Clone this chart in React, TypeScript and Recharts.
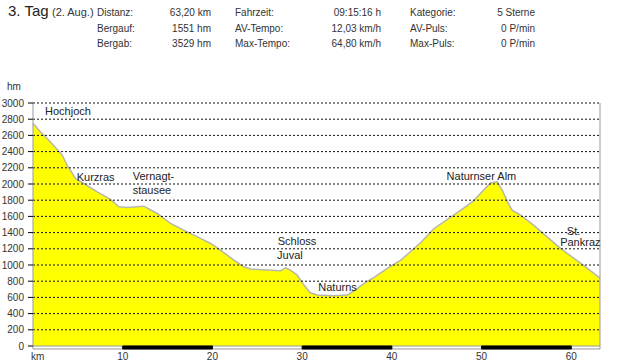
import React from "react";
import {
  AreaChart,
  Area,
  XAxis,
  YAxis,
  ReferenceLine,
  ReferenceArea,
  ReferenceDot,
} from "recharts";

// Route profile: distance (km) and elevation (hm)
const kmValues = [
  0, 0.84, 1.95, 3.26, 3.81, 4.74, 5.66, 7.16, 8.64, 9.57,
  10.5, 12.35, 13.85, 15.33, 17.19, 18.67, 19.8, 20.9, 22.4, 23.5,
  24.25, 26.1, 27.6, 28.15, 28.7, 29.45, 30.2, 30.9, 31.7, 33.5,
  35.0, 35.8, 36.9, 38.0, 39.5, 41.0, 43.2, 44.7, 46.2, 47.7,
  49.1, 50.4, 51.0, 51.75, 52.3, 52.9, 53.4, 54.35, 55.8, 57.3,
  58.8, 60.3, 61.8, 63.2,
];
const elevations = [
  2750, 2642, 2519, 2355, 2232, 2068, 2006, 1903, 1809, 1718,
  1710, 1726, 1636, 1513, 1409, 1328, 1266, 1184, 1060, 978,
  950, 937, 929, 966, 937, 875, 752, 657, 629, 620,
  629, 682, 773, 847, 958, 1060, 1274, 1451, 1562, 1677,
  1792, 1945, 2014, 2026, 1924, 1779, 1677, 1615, 1492, 1348,
  1205, 1081, 958, 838,
];

const yTicks = [0, 200, 400, 600, 800, 1000, 1200, 1400, 1600, 1800, 2000, 2200, 2400, 2600, 2800, 3000];
const xTicks = [0, 10, 20, 30, 40, 50, 60];
const xMax = 63.2;
const scaleBandsBlack = [
  [10, 20],
  [30, 40],
  [50, 60],
];

// Place names (text anchor position in km / hm)
const placeNames = ["Hochjoch", "Kurzras", "Vernagt-", "stausee", "Schloss", "Juval", "Naturns", "Naturnser Alm", "St.", "Pankraz"];
const placeKm = [1.34, 4.87, 11.11, 11.11, 27.28, 27.2, 31.8, 46.1, 59.5, 58.76];
const placeHm = [2852, 2031, 2049, 1877, 1247, 1074, 673, 2049, 1370, 1230];

// Header
const titleMain = "3. Tag";
const titleSub = "(2. Aug.)";
const statLabels = [
  ["Distanz:", "Bergauf:", "Bergab:"],
  ["Fahrzeit:", "AV-Tempo:", "Max-Tempo:"],
  ["Kategorie:", "AV-Puls:", "Max-Puls:"],
];
const statValues = [
  ["63,20 km", "1551 hm", "3529 hm"],
  ["09:15:16 h", "12,03 km/h", "64,80 km/h"],
  ["5 Sterne", "0 P/min", "0 P/min"],
];

const FONT = "Arial, 'Liberation Sans', sans-serif";
const data = kmValues.map((km, i) => ({ km, hm: elevations[i] }));

const labelColX = [97, 235, 410];
const valueColX = [211, 381, 535];
const rowY = [15.5, 31.5, 47];

const XTick = (props: any) => {
  const { x, y, payload } = props;
  if (payload.value === 0) {
    return (
      <text x={x - 2} y={y} dy="0.71em" textAnchor="start" fontSize={10} fontFamily={FONT} fill="#333">
        km
      </text>
    );
  }
  return (
    <text x={x} y={y} dy="0.71em" textAnchor="middle" fontSize={10} fontFamily={FONT} fill="#333">
      {payload.value}
    </text>
  );
};

const RightTick = (props: any) => {
  const { x, y, payload } = props;
  return (
    <text x={x} y={y} dy="0.355em" textAnchor="end" fontSize={10} fontFamily={FONT} fill="#333">
      {payload.value}
    </text>
  );
};

export default function App() {
  return (
    <div style={{ position: "absolute", left: 0, top: 0, width: 640, height: 364, background: "#fff" }}>
      <svg width={640} height={100} style={{ position: "absolute", left: 0, top: 0 }}>
        <text x={8} y={16} fontSize={15} fontFamily={FONT} fill="#222">
          {titleMain}
        </text>
        <text x={52} y={16} fontSize={11} fontFamily={FONT} fill="#333">
          {titleSub}
        </text>
        {statLabels.map((col, ci) =>
          col.map((t, ri) => (
            <text key={`l${ci}${ri}`} x={labelColX[ci]} y={rowY[ri]} fontSize={10} fontFamily={FONT} fill="#333">
              {t}
            </text>
          ))
        )}
        {statValues.map((col, ci) =>
          col.map((t, ri) => (
            <text key={`v${ci}${ri}`} x={valueColX[ci]} y={rowY[ri]} textAnchor="end" fontSize={10} fontFamily={FONT} fill="#333">
              {t}
            </text>
          ))
        )}
        <text x={7} y={90} fontSize={10} fontFamily={FONT} fill="#333">
          hm
        </text>
      </svg>
      <div style={{ position: "absolute", left: 0, top: 0 }}>
        <AreaChart width={640} height={364} data={data} margin={{ top: 103, right: 0, left: 0, bottom: 0 }}>
          <XAxis
            dataKey="km"
            type="number"
            domain={[0, xMax]}
            ticks={xTicks}
            axisLine={false}
            tickLine={false}
            tickSize={5}
            tickMargin={2}
            height={18}
            tick={<XTick />}
            interval={0}
          />
          <YAxis
            domain={[0, 3000]}
            ticks={yTicks}
            width={33}
            axisLine={{ stroke: "#999" }}
            tickLine={{ stroke: "#000" }}
            tickSize={5}
            tickMargin={4}
            tick={{ fontSize: 10, fontFamily: FONT, fill: "#333" }}
            interval={0}
          />
          <YAxis
            yAxisId="r"
            orientation="right"
            domain={[0, 3000]}
            ticks={yTicks}
            width={40}
            axisLine={{ stroke: "#999" }}
            tickLine={false}
            tickSize={0}
            tickMargin={31}
            tick={<RightTick />}
            interval={0}
          />
          <Area
            type="linear"
            dataKey="hm"
            stroke="#b8b8aa"
            strokeWidth={1.5}
            fill="#ffff00"
            fillOpacity={1}
            isAnimationActive={false}
          />
          {yTicks
            .filter((t) => t > 0)
            .map((t) => (
              <ReferenceLine key={t} y={t} stroke="#111" strokeWidth={1} strokeDasharray="2 2" />
            ))}
          <ReferenceArea x1={0} x2={xMax} y1={-37} y2={0} fill="#fff" fillOpacity={1} stroke="#999" strokeWidth={1} ifOverflow="visible" />
          {scaleBandsBlack.map(([a, b]) => (
            <ReferenceArea key={a} x1={a} x2={b} y1={-37} y2={0} fill="#000" fillOpacity={1} stroke="#000" ifOverflow="visible" />
          ))}
          {placeNames.map((name, i) => (
            <ReferenceDot
              key={name}
              x={placeKm[i]}
              y={placeHm[i]}
              r={1}
              ifOverflow="visible"
              shape={(p: any) => (
                <text x={p.cx} y={p.cy} fontSize={11} fontFamily={FONT} fill="#222">
                  {name}
                </text>
              )}
            />
          ))}
        </AreaChart>
      </div>
    </div>
  );
}
